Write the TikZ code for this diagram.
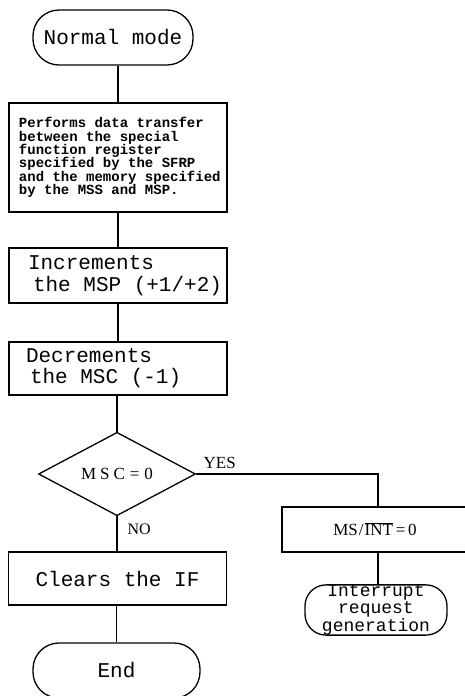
\documentclass[tikz,border=0pt]{standalone}
\usepackage{fontspec}
\newfontfamily\monofont[WordSpace={1,0,0}]{Liberation Mono}
\newfontfamily\seriffont{Liberation Serif}
\usetikzlibrary{shapes.geometric}
% full-width typewriter spaces inside left-aligned nodes
\newcommand{\fullspaces}{\spaceskip=0pt\xspaceskip=0pt\relax}
\begin{document}
\begin{tikzpicture}[x=1pt,y=-1pt,
  line width=1.3pt,
  flow/.style={line width=1.3pt},
  procbox/.style={draw, rectangle, line width=1.3pt, minimum width=218pt,
    inner ysep=0pt, font=\monofont\fontsize{21}{22}\selectfont},
  termbox/.style={draw, rectangle, line width=1.3pt, inner sep=0pt,
    font=\monofont\fontsize{21}{22}\selectfont},
  decision/.style={draw, diamond, line width=1.3pt, inner sep=0pt,
    minimum width=157pt, minimum height=77pt},
  lbl/.style={font=\seriffont\fontsize{17}{19}\selectfont, inner sep=0pt}
]
\useasboundingbox (0,0) rectangle (465,696);
\fill[white] (0,0) rectangle (465,696);

% main column
\node[termbox, rounded corners=26pt, minimum width=160pt, minimum height=55pt]
  (start) at (113,37.5) {Normal mode};

\node[procbox, minimum height=109pt, inner xsep=10pt, text width=198pt, align=left,
  font=\monofont\bfseries\fontsize{14}{13.4}\selectfont]
  (xfer) at (118,157.5)
  {\fullspaces\mbox{Performs data transfer}\\\mbox{between the special}\\\mbox{function register}\\
   \mbox{specified by the SFRP}\\\mbox{and the memory specified}\\\mbox{by the MSS and MSP.}};

\node[procbox, minimum height=55pt, inner xsep=19pt, text width=180pt, align=left]
  (incr) at (118,275.5) {\fullspaces\mbox{Increments}\\\mbox{\hspace*{5pt}the MSP (+1/+2)}};

\node[procbox, minimum height=53pt, inner xsep=17pt, text width=184pt, align=left,
  font=\monofont\fontsize{21}{21}\selectfont]
  (decr) at (118,368.5) {\fullspaces\mbox{Decrements}\\\mbox{\hspace*{4pt}the MSC (-1)}};

\node[decision, font=\seriffont\fontsize{17}{19}\selectfont]
  (test) at (117,474) {M\hspace{4pt}S\hspace{4pt}C\hspace{5pt}=\hspace{5pt}0};

\node[procbox, minimum height=53pt] (clear) at (117.5,578.5) {Clears the IF};

\node[termbox, rounded corners=26pt, minimum width=167pt, minimum height=55pt]
  (finish) at (116.5,670.5) {End};

% branch taken when the counter reaches zero
\node[draw, rectangle, line width=1.3pt, minimum width=186pt, minimum height=45pt,
  inner sep=0pt, font=\seriffont\fontsize{17}{19}\selectfont]
  (flag) at (375,529.5) {MS\kern1pt/\kern1pt$\overline{\hbox{INT}}$\,=\,0};

\node[termbox, rounded corners=21pt, minimum width=142pt, minimum height=44pt,
  align=center, font=\monofont\fontsize{18}{13.5}\selectfont]
  (irq) at (376,610) {Interrupt\\request\\generation};

% connectors
\draw[flow] (xfer.north) -- (xfer.north |- start.south);
\draw[flow] (xfer.south) -- (incr.north);
\draw[flow] (incr.south) -- (decr.north);
\draw[flow] (decr.south -| test.north) -- (test.north);
\draw[flow] (test.south) -- (test.south |- clear.north);
\draw[flow] (clear.south -| finish.north) -- (finish.north);
\coordinate (turn) at (378,474);
\draw[flow] (test.east) -- (turn) -- (turn |- flag.north);
\draw[flow] (turn |- flag.south) -- (turn |- irq.north);

% branch labels
\node[lbl, anchor=base west] (yes) at (203,468) {YES};
\node[lbl, anchor=base west, font=\seriffont\fontsize{16}{18}\selectfont] (no) at (127,534) {NO};
\end{tikzpicture}
\end{document}
